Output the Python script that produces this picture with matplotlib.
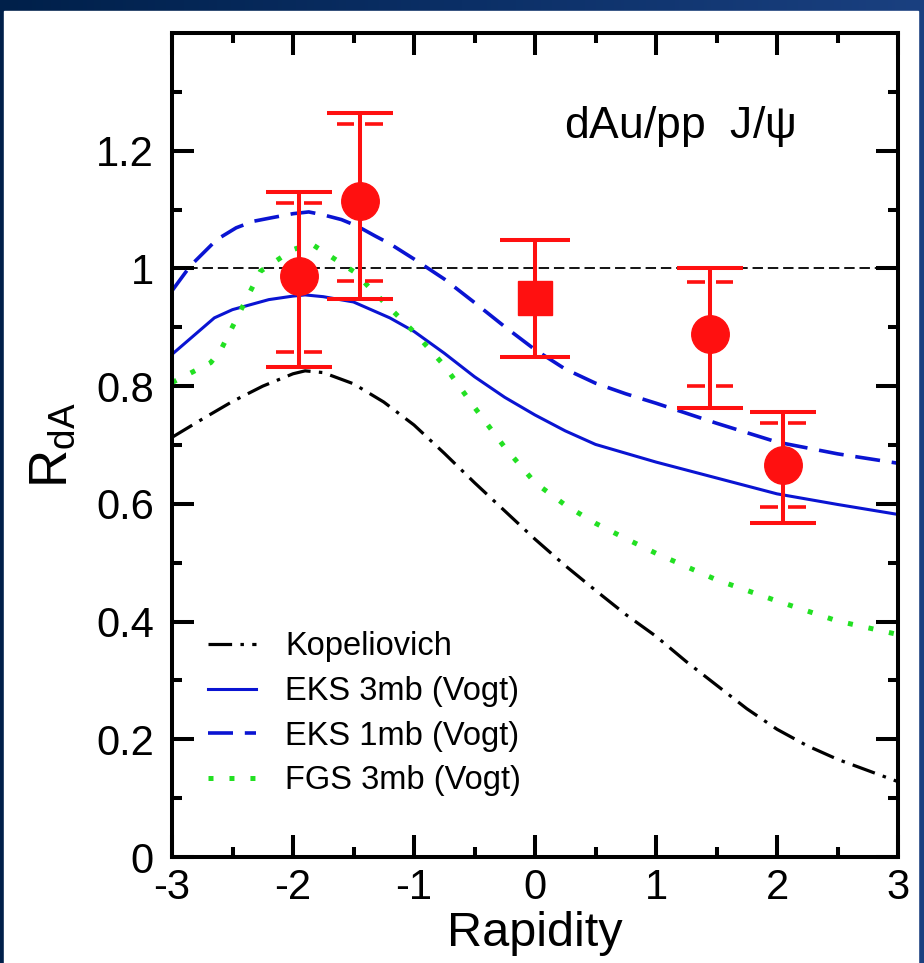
import numpy as np
import matplotlib
matplotlib.use("Agg")
import matplotlib.pyplot as plt
from matplotlib.patches import Rectangle

plt.rcParams['font.family'] = ['Liberation Sans', 'DejaVu Sans']
plt.rcParams['mathtext.fontset'] = 'custom'
plt.rcParams['mathtext.rm'] = 'Liberation Sans'
plt.rcParams['mathtext.it'] = 'Liberation Sans'
plt.rcParams['lines.scale_dashes'] = False

# theory curves
kop_y = [-3, -2.75, -2.5, -2.25, -2, -1.9, -1.75, -1.5, -1.25, -1, -0.75, -0.5, -0.25,
         0, 0.25, 0.5, 0.75, 1, 1.25, 1.5, 1.75, 2, 2.25, 2.5, 2.75, 3]
kop_r = [0.713, 0.744, 0.774, 0.800, 0.821, 0.826, 0.823, 0.804, 0.773, 0.734, 0.686, 0.636, 0.588,
         0.540, 0.495, 0.453, 0.412, 0.375, 0.332, 0.292, 0.252, 0.217, 0.189, 0.166, 0.147, 0.128]

eks3_y = [-3, -2.65, -2.5, -2.2, -2, -1.9, -1.75, -1.5, -1.2, -1, -0.75, -0.5, -0.25,
          0, 0.25, 0.5, 0.75, 1, 1.5, 2, 2.5, 3]
eks3_r = [0.854, 0.916, 0.930, 0.947, 0.953, 0.955, 0.952, 0.943, 0.916, 0.893, 0.856, 0.816, 0.781,
          0.751, 0.724, 0.701, 0.686, 0.671, 0.644, 0.617, 0.599, 0.582]

eks1_y = [-3, -2.85, -2.63, -2.47, -2.33, -2.18, -2.0, -1.87, -1.75, -1.6, -1.47, -1.32, -1.2,
          -1, -0.75, -0.5, -0.25, 0, 0.25, 0.5, 0.75, 1, 1.5, 2, 2.5, 3]
eks1_r = [0.962, 1.004, 1.049, 1.069, 1.080, 1.086, 1.093, 1.096, 1.091, 1.083, 1.072, 1.055, 1.042,
          1.016, 0.982, 0.942, 0.901, 0.862, 0.829, 0.805, 0.787, 0.771, 0.737, 0.705, 0.685, 0.669]

fgs_y = [-3, -2.68, -2.6, -2.27, -2.0, -1.85, -1.7, -1.5, -1.25, -1.0, -0.75, -0.5, -0.25,
         0, 0.25, 0.5, 0.75, 1.0, 1.5, 2.0, 2.5, 3.0]
fgs_r = [0.806, 0.840, 0.860, 0.995, 1.032, 1.042, 1.022, 0.995, 0.943, 0.892, 0.835, 0.764, 0.696,
         0.636, 0.598, 0.567, 0.541, 0.516, 0.471, 0.435, 0.401, 0.378]

# data points (circles) with stat. bars and inner syst. caps
pts_y = [-1.95, -1.45, 1.45, 2.05]
pts_r = [0.987, 1.114, 0.889, 0.666]
pts_hi = [1.130, 1.264, 1.001, 0.756]
pts_lo = [0.832, 0.948, 0.763, 0.567]
sys_hi = [1.112, 1.245, 0.977, 0.737]
sys_lo = [0.858, 0.978, 0.801, 0.594]

# mid-rapidity point (square)
mid_y = [0.0]
mid_r = [0.950]
mid_hi = [1.049]
mid_lo = [0.850]

red = '#ff1010'
blue = '#0a14d2'
green = '#22e022'

fig = plt.figure(figsize=(9.24, 9.63), dpi=100)
fig.patch.set_facecolor('#0b2b5c')

# slide background: gradient band on top, white page
bg = fig.add_axes([0, 0, 1, 1])
grad = np.linspace(0, 1, 256).reshape(1, -1)
bg.imshow(grad, aspect='auto', cmap=matplotlib.colors.LinearSegmentedColormap.from_list(
    'nav', ['#00204a', '#0b2f66', '#1a4080']), extent=[0, 1, 0, 1])
bg.add_patch(Rectangle((4 / 924, 0), (918 - 4) / 924, 1 - 11 / 963, color='white'))
bg.set_xlim(0, 1)
bg.set_ylim(0, 1)
bg.axis('off')

ax = fig.add_axes([172 / 924, 1 - 857 / 963, 726 / 924, 824 / 963])

ax.axhline(1.0, color='black', lw=1.3, ls=(0, (7.5, 3.5)), zorder=1)

ax.plot(kop_y, kop_r, color='black', lw=2.3, ls=(0, (17, 6, 2.5, 6)), label='Kopeliovich')
ax.plot(eks3_y, eks3_r, color=blue, lw=2.2, label='EKS 3mb (Vogt)')
ax.plot(eks1_y, eks1_r, color=blue, lw=2.6, ls=(0, (18, 8.5)), label='EKS 1mb (Vogt)')
ax.plot(fgs_y, fgs_r, color=green, lw=3.6, ls=(0, (3.6, 11.5)), label='FGS 3mb (Vogt)')

pts_y = np.array(pts_y)
pts_r = np.array(pts_r)
ax.errorbar(pts_y, pts_r, yerr=[pts_r - np.array(pts_lo), np.array(pts_hi) - pts_r],
            fmt='o', color=red, ms=27, elinewidth=2.9, capsize=23.5, capthick=2.9, zorder=5)
mid_y = np.array(mid_y)
mid_r = np.array(mid_r)
ax.errorbar(mid_y, mid_r, yerr=[mid_r - np.array(mid_lo), np.array(mid_hi) - mid_r],
            fmt='s', color=red, ms=24.5, elinewidth=2.9, capsize=25.5, capthick=2.9, zorder=5)

# systematic (inner) caps, split around the vertical bar
for lev in (sys_lo, sys_hi):
    ax.hlines(lev, pts_y - 0.19, pts_y - 0.045, color=red, lw=2.6, zorder=5)
    ax.hlines(lev, pts_y + 0.045, pts_y + 0.19, color=red, lw=2.6, zorder=5)

ax.text(2.15, 1.222, r'dAu/pp  J/$\psi$', fontsize=32, ha='right', va='baseline')

ax.set_xlim(-3, 3)
ax.set_ylim(0, 1.4)
ax.set_xticks([-3, -2, -1, 0, 1, 2, 3])
ax.set_xticks(np.arange(-2.5, 3, 1.0), minor=True)
ax.set_yticks([0, 0.2, 0.4, 0.6, 0.8, 1.0, 1.2])
ax.set_yticklabels(['0', '0.2', '0.4', '0.6', '0.8', '1', '1.2'])
ax.set_yticks(np.arange(0.1, 1.4, 0.2), minor=True)
ax.set_xticklabels(['-3', '-2', '-1', '0', '1', '2', '3'])
ax.tick_params(which='both', direction='in', top=True, right=True, width=2.9, labelsize=30)
ax.tick_params(which='major', length=15.8)
ax.tick_params(which='minor', length=7.2)
ax.tick_params(axis='y', pad=13)
ax.tick_params(axis='x', pad=8)
for s in ax.spines.values():
    s.set_linewidth(2.9)

ax.set_xlabel('Rapidity', fontsize=35, labelpad=2)
ax.set_ylabel(r'$\mathrm{R_{dA}}$', fontsize=38, labelpad=13)

ax.legend(loc='upper left', bbox_to_anchor=(0.05, 0.274), frameon=False, fontsize=23.5,
          handlelength=1.45, handletextpad=0.9, labelspacing=0.42, borderpad=0, borderaxespad=0)

fig.savefig('out.png', dpi=100, facecolor=fig.get_facecolor())
